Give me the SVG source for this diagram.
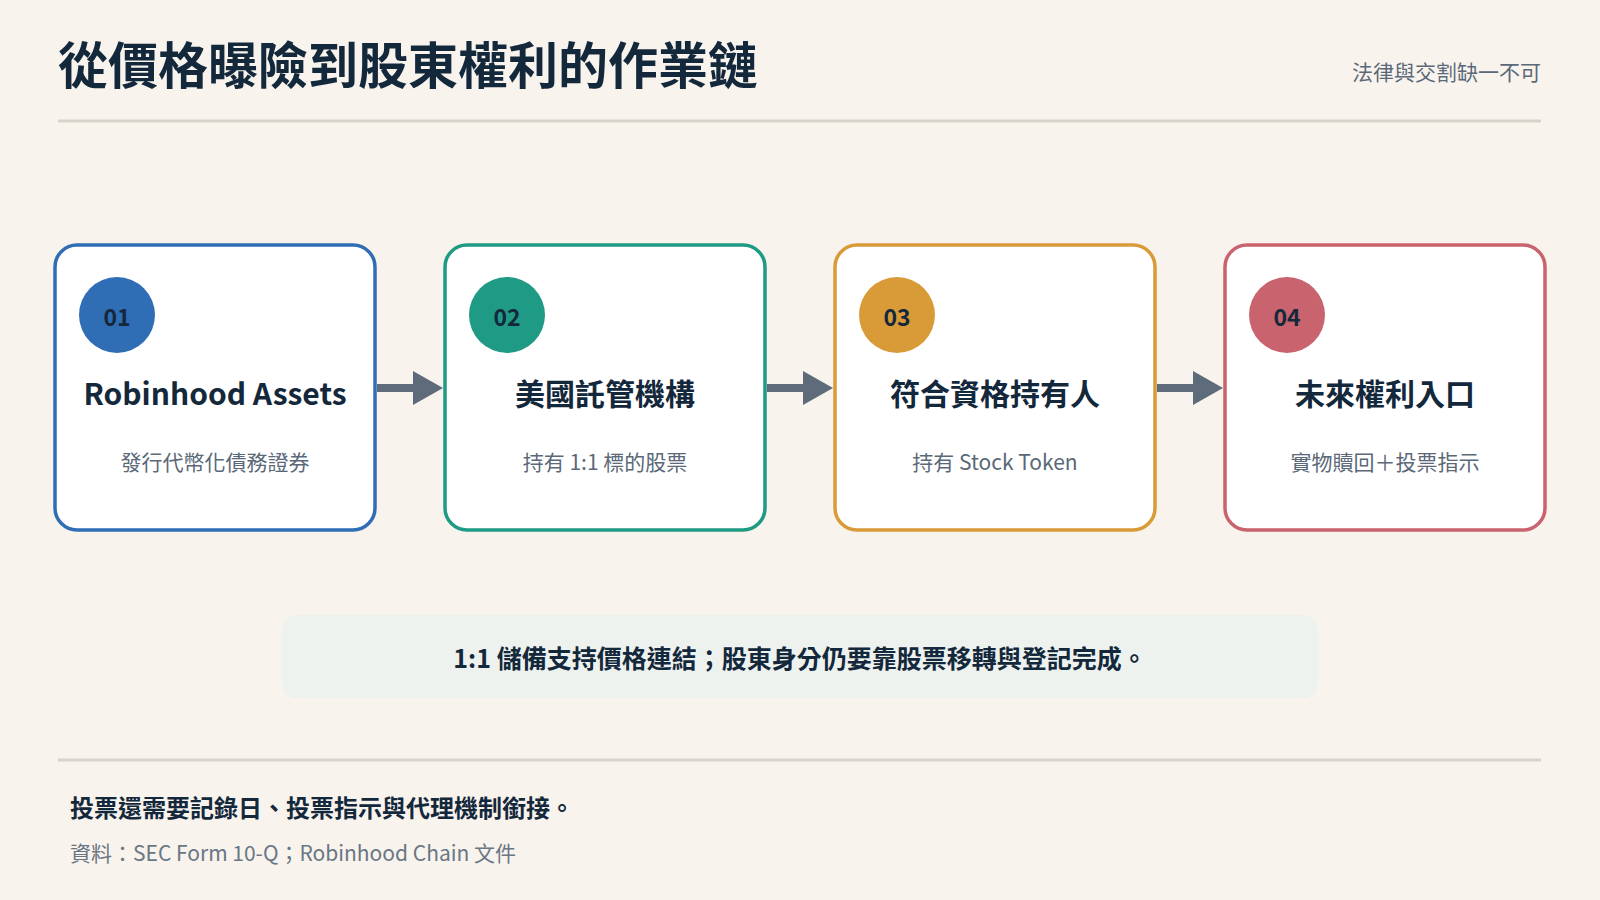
<svg xmlns="http://www.w3.org/2000/svg" width="1600" height="900" viewBox="0 0 1600 900">
<style>
text{font-family:"Noto Sans CJK TC","Noto Sans",sans-serif}
.card{fill:#fff;stroke-width:3.5}
.num{font-size:23px;font-weight:700;fill:#14283c;text-anchor:middle}
.ttl{font-size:30px;font-weight:700;fill:#14283c;text-anchor:middle}
.sub{font-size:21px;fill:#5a6878;text-anchor:middle}
.ln{stroke:#d8d3ca;stroke-width:3}
.sh{stroke:#5d6b7a;stroke-width:8}
.hd{fill:#5d6b7a}
</style>
<rect width="1600" height="900" fill="#f8f3ed"/>
<text x="58" y="84" font-size="50" font-weight="700" fill="#14283c">從價格曝險到股東權利的作業鏈</text>
<text x="1541" y="80" font-size="21" fill="#5a6878" text-anchor="end">法律與交割缺一不可</text>
<line class="ln" x1="58" y1="121" x2="1541" y2="121"/>
<g id="connectors">
<line class="sh" x1="377" y1="388" x2="415" y2="388"/><polygon class="hd" points="413,371 443,388 413,405"/>
<line class="sh" x1="767" y1="388" x2="805" y2="388"/><polygon class="hd" points="803,371 833,388 803,405"/>
<line class="sh" x1="1157" y1="388" x2="1195" y2="388"/><polygon class="hd" points="1193,371 1223,388 1193,405"/>
</g>
<g id="n1"><rect class="card" x="55" y="245" width="320" height="285" rx="22" stroke="#2f6db5"/><circle cx="117" cy="315" r="38" fill="#2f6db5"/><text class="num" x="117" y="326">01</text><text class="ttl" x="215" y="405">Robinhood Assets</text><text class="sub" x="215" y="470">發行代幣化債務證券</text></g>
<g id="n2"><rect class="card" x="445" y="245" width="320" height="285" rx="22" stroke="#1f9a85"/><circle cx="507" cy="315" r="38" fill="#1f9a85"/><text class="num" x="507" y="326">02</text><text class="ttl" x="605" y="405">美國託管機構</text><text class="sub" x="605" y="470">持有 1:1 標的股票</text></g>
<g id="n3"><rect class="card" x="835" y="245" width="320" height="285" rx="22" stroke="#d99b38"/><circle cx="897" cy="315" r="38" fill="#d99b38"/><text class="num" x="897" y="326">03</text><text class="ttl" x="995" y="405">符合資格持有人</text><text class="sub" x="995" y="470">持有 Stock Token</text></g>
<g id="n4"><rect class="card" x="1225" y="245" width="320" height="285" rx="22" stroke="#c9636e"/><circle cx="1287" cy="315" r="38" fill="#c9636e"/><text class="num" x="1287" y="326">04</text><text class="ttl" x="1385" y="405">未來權利入口</text><text class="sub" x="1385" y="470">實物贖回＋投票指示</text></g>
<g id="note"><rect x="282" y="615" width="1036" height="83" rx="14" fill="#edf2ee"/><text x="800" y="668" font-size="25" font-weight="700" fill="#14283c" text-anchor="middle">1:1 儲備支持價格連結；股東身分仍要靠股票移轉與登記完成。</text></g>
<line class="ln" x1="58" y1="760" x2="1541" y2="760"/>
<text x="70" y="817" font-size="24" font-weight="700" fill="#14283c">投票還需要記錄日、投票指示與代理機制銜接。</text>
<text x="70" y="861" font-size="21" fill="#6a7684">資料：SEC Form 10-Q；Robinhood Chain 文件</text>
</svg>
